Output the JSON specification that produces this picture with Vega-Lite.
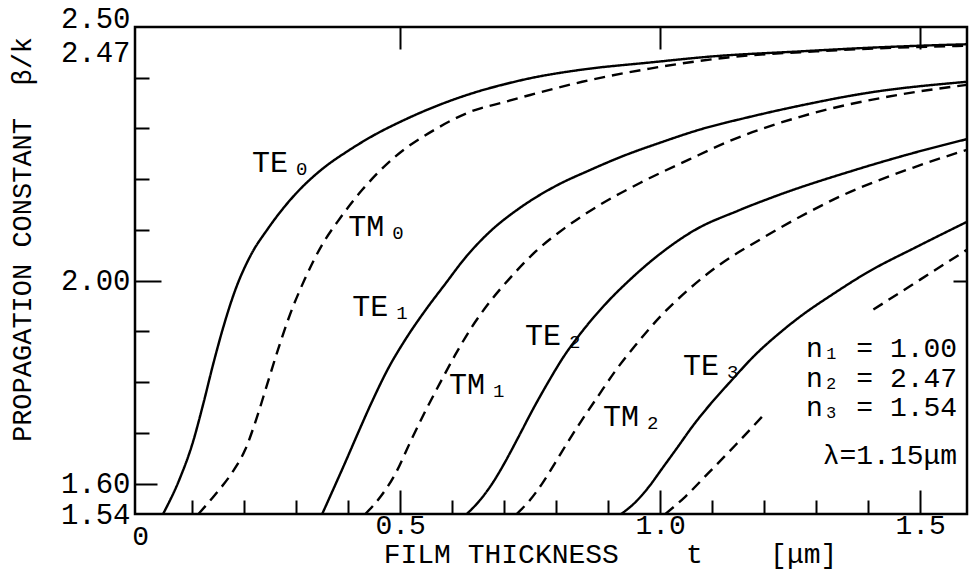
{
  "$schema": "https://vega.github.io/schema/vega-lite/v6.json",
  "width": 832,
  "height": 487,
  "autosize": "none",
  "padding": {"left": 135, "top": 27, "right": 2, "bottom": 62},
  "background": "white",
  "config": {
    "view": {"stroke": "black", "strokeWidth": 2.5},
    "font": "Liberation Mono",
    "axis": {"grid": false, "domain": false, "tickColor": "black", "tickWidth": 2, "labelColor": "black", "titleColor": "black", "labelFont": "Liberation Mono", "titleFont": "Liberation Mono", "titleFontWeight": "normal"}
  },
  "datasets": {
    "curves": [
      {"seg": "TE0", "pol": "TE", "t": 0.044, "b": 1.540},
      {"seg": "TE0", "pol": "TE", "t": 0.077, "b": 1.612},
      {"seg": "TE0", "pol": "TE", "t": 0.100, "b": 1.677},
      {"seg": "TE0", "pol": "TE", "t": 0.121, "b": 1.756},
      {"seg": "TE0", "pol": "TE", "t": 0.140, "b": 1.834},
      {"seg": "TE0", "pol": "TE", "t": 0.160, "b": 1.909},
      {"seg": "TE0", "pol": "TE", "t": 0.183, "b": 1.982},
      {"seg": "TE0", "pol": "TE", "t": 0.212, "b": 2.049},
      {"seg": "TE0", "pol": "TE", "t": 0.246, "b": 2.103},
      {"seg": "TE0", "pol": "TE", "t": 0.298, "b": 2.170},
      {"seg": "TE0", "pol": "TE", "t": 0.350, "b": 2.220},
      {"seg": "TE0", "pol": "TE", "t": 0.400, "b": 2.256},
      {"seg": "TE0", "pol": "TE", "t": 0.450, "b": 2.287},
      {"seg": "TE0", "pol": "TE", "t": 0.500, "b": 2.313},
      {"seg": "TE0", "pol": "TE", "t": 0.550, "b": 2.336},
      {"seg": "TE0", "pol": "TE", "t": 0.600, "b": 2.356},
      {"seg": "TE0", "pol": "TE", "t": 0.650, "b": 2.373},
      {"seg": "TE0", "pol": "TE", "t": 0.700, "b": 2.387},
      {"seg": "TE0", "pol": "TE", "t": 0.750, "b": 2.399},
      {"seg": "TE0", "pol": "TE", "t": 0.850, "b": 2.416},
      {"seg": "TE0", "pol": "TE", "t": 0.980, "b": 2.430},
      {"seg": "TE0", "pol": "TE", "t": 1.100, "b": 2.442},
      {"seg": "TE0", "pol": "TE", "t": 1.270, "b": 2.452},
      {"seg": "TE0", "pol": "TE", "t": 1.400, "b": 2.459},
      {"seg": "TE0", "pol": "TE", "t": 1.525, "b": 2.464},
      {"seg": "TE0", "pol": "TE", "t": 1.590, "b": 2.466},
      {"seg": "TM0", "pol": "TM", "t": 0.112, "b": 1.540},
      {"seg": "TM0", "pol": "TM", "t": 0.144, "b": 1.578},
      {"seg": "TM0", "pol": "TM", "t": 0.177, "b": 1.622},
      {"seg": "TM0", "pol": "TM", "t": 0.202, "b": 1.667},
      {"seg": "TM0", "pol": "TM", "t": 0.223, "b": 1.726},
      {"seg": "TM0", "pol": "TM", "t": 0.244, "b": 1.795},
      {"seg": "TM0", "pol": "TM", "t": 0.265, "b": 1.864},
      {"seg": "TM0", "pol": "TM", "t": 0.288, "b": 1.933},
      {"seg": "TM0", "pol": "TM", "t": 0.317, "b": 2.004},
      {"seg": "TM0", "pol": "TM", "t": 0.350, "b": 2.071},
      {"seg": "TM0", "pol": "TM", "t": 0.385, "b": 2.124},
      {"seg": "TM0", "pol": "TM", "t": 0.427, "b": 2.179},
      {"seg": "TM0", "pol": "TM", "t": 0.490, "b": 2.244},
      {"seg": "TM0", "pol": "TM", "t": 0.567, "b": 2.298},
      {"seg": "TM0", "pol": "TM", "t": 0.635, "b": 2.333},
      {"seg": "TM0", "pol": "TM", "t": 0.700, "b": 2.352},
      {"seg": "TM0", "pol": "TM", "t": 0.750, "b": 2.366},
      {"seg": "TM0", "pol": "TM", "t": 0.850, "b": 2.392},
      {"seg": "TM0", "pol": "TM", "t": 0.980, "b": 2.418},
      {"seg": "TM0", "pol": "TM", "t": 1.130, "b": 2.440},
      {"seg": "TM0", "pol": "TM", "t": 1.300, "b": 2.452},
      {"seg": "TM0", "pol": "TM", "t": 1.450, "b": 2.459},
      {"seg": "TM0", "pol": "TM", "t": 1.590, "b": 2.463},
      {"seg": "TE1", "pol": "TE", "t": 0.350, "b": 1.540},
      {"seg": "TE1", "pol": "TE", "t": 0.371, "b": 1.588},
      {"seg": "TE1", "pol": "TE", "t": 0.394, "b": 1.641},
      {"seg": "TE1", "pol": "TE", "t": 0.419, "b": 1.700},
      {"seg": "TE1", "pol": "TE", "t": 0.446, "b": 1.762},
      {"seg": "TE1", "pol": "TE", "t": 0.477, "b": 1.827},
      {"seg": "TE1", "pol": "TE", "t": 0.510, "b": 1.884},
      {"seg": "TE1", "pol": "TE", "t": 0.548, "b": 1.941},
      {"seg": "TE1", "pol": "TE", "t": 0.587, "b": 1.994},
      {"seg": "TE1", "pol": "TE", "t": 0.625, "b": 2.045},
      {"seg": "TE1", "pol": "TE", "t": 0.673, "b": 2.097},
      {"seg": "TE1", "pol": "TE", "t": 0.731, "b": 2.144},
      {"seg": "TE1", "pol": "TE", "t": 0.798, "b": 2.186},
      {"seg": "TE1", "pol": "TE", "t": 0.865, "b": 2.218},
      {"seg": "TE1", "pol": "TE", "t": 0.927, "b": 2.245},
      {"seg": "TE1", "pol": "TE", "t": 1.000, "b": 2.272},
      {"seg": "TE1", "pol": "TE", "t": 1.077, "b": 2.298},
      {"seg": "TE1", "pol": "TE", "t": 1.173, "b": 2.323},
      {"seg": "TE1", "pol": "TE", "t": 1.269, "b": 2.345},
      {"seg": "TE1", "pol": "TE", "t": 1.398, "b": 2.370},
      {"seg": "TE1", "pol": "TE", "t": 1.590, "b": 2.392},
      {"seg": "TM1", "pol": "TM", "t": 0.433, "b": 1.540},
      {"seg": "TM1", "pol": "TM", "t": 0.462, "b": 1.574},
      {"seg": "TM1", "pol": "TM", "t": 0.490, "b": 1.618},
      {"seg": "TM1", "pol": "TM", "t": 0.519, "b": 1.681},
      {"seg": "TM1", "pol": "TM", "t": 0.548, "b": 1.742},
      {"seg": "TM1", "pol": "TM", "t": 0.577, "b": 1.799},
      {"seg": "TM1", "pol": "TM", "t": 0.606, "b": 1.854},
      {"seg": "TM1", "pol": "TM", "t": 0.638, "b": 1.909},
      {"seg": "TM1", "pol": "TM", "t": 0.673, "b": 1.959},
      {"seg": "TM1", "pol": "TM", "t": 0.712, "b": 2.006},
      {"seg": "TM1", "pol": "TM", "t": 0.760, "b": 2.057},
      {"seg": "TM1", "pol": "TM", "t": 0.817, "b": 2.104},
      {"seg": "TM1", "pol": "TM", "t": 0.885, "b": 2.150},
      {"seg": "TM1", "pol": "TM", "t": 0.962, "b": 2.193},
      {"seg": "TM1", "pol": "TM", "t": 1.054, "b": 2.238},
      {"seg": "TM1", "pol": "TM", "t": 1.140, "b": 2.278},
      {"seg": "TM1", "pol": "TM", "t": 1.269, "b": 2.323},
      {"seg": "TM1", "pol": "TM", "t": 1.462, "b": 2.367},
      {"seg": "TM1", "pol": "TM", "t": 1.590, "b": 2.386},
      {"seg": "TE2", "pol": "TE", "t": 0.628, "b": 1.540},
      {"seg": "TE2", "pol": "TE", "t": 0.654, "b": 1.568},
      {"seg": "TE2", "pol": "TE", "t": 0.677, "b": 1.600},
      {"seg": "TE2", "pol": "TE", "t": 0.702, "b": 1.643},
      {"seg": "TE2", "pol": "TE", "t": 0.727, "b": 1.691},
      {"seg": "TE2", "pol": "TE", "t": 0.754, "b": 1.744},
      {"seg": "TE2", "pol": "TE", "t": 0.783, "b": 1.797},
      {"seg": "TE2", "pol": "TE", "t": 0.813, "b": 1.848},
      {"seg": "TE2", "pol": "TE", "t": 0.850, "b": 1.900},
      {"seg": "TE2", "pol": "TE", "t": 0.894, "b": 1.953},
      {"seg": "TE2", "pol": "TE", "t": 0.942, "b": 2.002},
      {"seg": "TE2", "pol": "TE", "t": 1.000, "b": 2.053},
      {"seg": "TE2", "pol": "TE", "t": 1.067, "b": 2.100},
      {"seg": "TE2", "pol": "TE", "t": 1.150, "b": 2.138},
      {"seg": "TE2", "pol": "TE", "t": 1.231, "b": 2.170},
      {"seg": "TE2", "pol": "TE", "t": 1.371, "b": 2.217},
      {"seg": "TE2", "pol": "TE", "t": 1.481, "b": 2.250},
      {"seg": "TE2", "pol": "TE", "t": 1.590, "b": 2.279},
      {"seg": "TM2", "pol": "TM", "t": 0.724, "b": 1.540},
      {"seg": "TM2", "pol": "TM", "t": 0.750, "b": 1.568},
      {"seg": "TM2", "pol": "TM", "t": 0.773, "b": 1.600},
      {"seg": "TM2", "pol": "TM", "t": 0.798, "b": 1.641},
      {"seg": "TM2", "pol": "TM", "t": 0.823, "b": 1.683},
      {"seg": "TM2", "pol": "TM", "t": 0.850, "b": 1.726},
      {"seg": "TM2", "pol": "TM", "t": 0.881, "b": 1.773},
      {"seg": "TM2", "pol": "TM", "t": 0.913, "b": 1.821},
      {"seg": "TM2", "pol": "TM", "t": 0.952, "b": 1.872},
      {"seg": "TM2", "pol": "TM", "t": 1.000, "b": 1.929},
      {"seg": "TM2", "pol": "TM", "t": 1.054, "b": 1.982},
      {"seg": "TM2", "pol": "TM", "t": 1.115, "b": 2.032},
      {"seg": "TM2", "pol": "TM", "t": 1.192, "b": 2.081},
      {"seg": "TM2", "pol": "TM", "t": 1.269, "b": 2.126},
      {"seg": "TM2", "pol": "TM", "t": 1.346, "b": 2.166},
      {"seg": "TM2", "pol": "TM", "t": 1.487, "b": 2.223},
      {"seg": "TM2", "pol": "TM", "t": 1.590, "b": 2.258},
      {"seg": "TE3", "pol": "TE", "t": 0.925, "b": 1.540},
      {"seg": "TE3", "pol": "TE", "t": 0.952, "b": 1.563},
      {"seg": "TE3", "pol": "TE", "t": 0.977, "b": 1.592},
      {"seg": "TE3", "pol": "TE", "t": 1.004, "b": 1.630},
      {"seg": "TE3", "pol": "TE", "t": 1.033, "b": 1.671},
      {"seg": "TE3", "pol": "TE", "t": 1.063, "b": 1.714},
      {"seg": "TE3", "pol": "TE", "t": 1.096, "b": 1.756},
      {"seg": "TE3", "pol": "TE", "t": 1.135, "b": 1.801},
      {"seg": "TE3", "pol": "TE", "t": 1.183, "b": 1.854},
      {"seg": "TE3", "pol": "TE", "t": 1.231, "b": 1.898},
      {"seg": "TE3", "pol": "TE", "t": 1.269, "b": 1.929},
      {"seg": "TE3", "pol": "TE", "t": 1.333, "b": 1.974},
      {"seg": "TE3", "pol": "TE", "t": 1.398, "b": 2.016},
      {"seg": "TE3", "pol": "TE", "t": 1.494, "b": 2.067},
      {"seg": "TE3", "pol": "TE", "t": 1.590, "b": 2.116},
      {"seg": "TM3a", "pol": "TM", "t": 1.010, "b": 1.540},
      {"seg": "TM3a", "pol": "TM", "t": 1.048, "b": 1.574},
      {"seg": "TM3a", "pol": "TM", "t": 1.092, "b": 1.620},
      {"seg": "TM3a", "pol": "TM", "t": 1.144, "b": 1.675},
      {"seg": "TM3a", "pol": "TM", "t": 1.196, "b": 1.732},
      {"seg": "TM3b", "pol": "TM", "t": 1.410, "b": 1.943},
      {"seg": "TM3b", "pol": "TM", "t": 1.500, "b": 2.002},
      {"seg": "TM3b", "pol": "TM", "t": 1.590, "b": 2.061}
    ],
    "labels": [
      {"name": "TE", "sub": "0", "t": 0.215, "b": 2.232},
      {"name": "TM", "sub": "0", "t": 0.400, "b": 2.106},
      {"name": "TE", "sub": "1", "t": 0.408, "b": 1.949},
      {"name": "TM", "sub": "1", "t": 0.594, "b": 1.795},
      {"name": "TE", "sub": "2", "t": 0.740, "b": 1.890},
      {"name": "TM", "sub": "2", "t": 0.890, "b": 1.732},
      {"name": "TE", "sub": "3", "t": 1.044, "b": 1.831}
    ],
    "notes": [
      {"text": "n₁ = 1.00", "t": 1.571, "b": 1.866},
      {"text": "n₂ = 2.47", "t": 1.571, "b": 1.807},
      {"text": "n₃ = 1.54", "t": 1.571, "b": 1.748},
      {"text": "λ=1.15μm", "t": 1.571, "b": 1.654}
    ]
  },
  "layer": [
    {
      "data": {"name": "curves"},
      "mark": {"type": "line", "interpolate": "monotone", "color": "black", "strokeWidth": 2.4, "clip": true},
      "encoding": {
        "x": {
          "field": "t", "type": "quantitative",
          "scale": {"domain": [-0.01, 1.59], "nice": false, "zero": false},
          "axis": {
            "orient": "bottom",
            "values": [0, 0.1, 0.2, 0.3, 0.4, 0.5, 0.6, 0.7, 0.8, 0.9, 1, 1.1, 1.2, 1.3, 1.4, 1.5],
            "labelExpr": "datum.value == 0 ? '0' : (indexof([0.5, 1, 1.5], datum.value) >= 0 ? format(datum.value, '.1f') : '')",
            "tickSize": {"condition": [{"test": "datum.value == 0", "value": 0}, {"test": "indexof([0.5, 1, 1.5], datum.value) >= 0", "value": -24}], "value": -14},
            "labelPadding": {"condition": [{"test": "datum.value == 0", "value": 8}, {"test": "indexof([0.5, 1, 1.5], datum.value) >= 0", "value": 21}], "value": 14},
            "labelFontSize": 28,
            "labelFlush": false,
            "labelOverlap": false,
            "title": "FILM THICKNESS\u00a0\u00a0\u00a0\u00a0t\u00a0\u00a0\u00a0\u00a0[μm]",
            "titleFontSize": 28,
            "titleX": 475,
            "titleY": 40,
            "titleAlign": "center",
            "titleBaseline": "middle"
          }
        },
        "y": {
          "field": "b", "type": "quantitative",
          "scale": {"domain": [1.54, 2.5], "nice": false, "zero": false},
          "axis": {
            "orient": "left",
            "values": [1.54, 1.6, 1.7, 1.8, 1.9, 2, 2.1, 2.2, 2.3, 2.4, 2.47, 2.5],
            "labelExpr": "indexof([1.54, 1.6, 2, 2.47, 2.5], datum.value) >= 0 ? format(datum.value, '.2f') : ''",
            "tickSize": {"condition": [{"test": "datum.value == 2", "value": -26}, {"test": "datum.value == 1.6", "value": -22}, {"test": "datum.value == 1.54 || datum.value > 2.45", "value": 0}], "value": -14},
            "labelPadding": {"condition": [{"test": "datum.value == 2", "value": 31}, {"test": "datum.value == 1.6", "value": 27}, {"test": "datum.value == 1.54 || datum.value > 2.45", "value": 5}], "value": 19},
            "labelOffset": {"condition": [{"test": "datum.value == 2.5", "value": -9}, {"test": "datum.value == 2.47", "value": 10}], "value": 0},
            "labelBaseline": "middle",
            "labelFontSize": 29,
            "labelFlush": false,
            "labelOverlap": false,
            "title": "PROPAGATION CONSTANT\u00a0\u00a0β/k",
            "titleFontSize": 27,
            "titleAngle": -90,
            "titleX": -113,
            "titleY": 212,
            "titleAlign": "center",
            "titleBaseline": "middle"
          }
        },
        "detail": {"field": "seg", "type": "nominal"},
        "strokeDash": {"field": "pol", "type": "nominal", "scale": {"domain": ["TE", "TM"], "range": [[1, 0], [11, 7]]}, "legend": null}
      }
    },
    {
      "data": {"name": "labels"},
      "mark": {"type": "text", "align": "left", "baseline": "middle", "fontSize": 30, "color": "black"},
      "encoding": {
        "x": {"field": "t", "type": "quantitative", "axis": {"orient": "top", "values": [0.5, 1, 1.5], "labels": false, "tickSize": -22, "title": null}},
        "y": {"field": "b", "type": "quantitative", "axis": {"orient": "right", "values": [2], "labels": false, "tickSize": -14, "title": null}},
        "text": {"field": "name"}
      }
    },
    {
      "data": {"name": "labels"},
      "mark": {"type": "text", "align": "left", "baseline": "middle", "fontSize": 19, "dx": 44, "dy": 6, "color": "black"},
      "encoding": {
        "x": {"field": "t", "type": "quantitative", "axis": null},
        "y": {"field": "b", "type": "quantitative", "axis": null},
        "text": {"field": "sub"}
      }
    },
    {
      "data": {"name": "notes"},
      "mark": {"type": "text", "align": "right", "baseline": "middle", "fontSize": 28, "color": "black"},
      "encoding": {
        "x": {"field": "t", "type": "quantitative", "axis": null},
        "y": {"field": "b", "type": "quantitative", "axis": null},
        "text": {"field": "text"}
      }
    }
  ],
  "resolve": {"axis": {"x": "independent", "y": "independent"}}
}
